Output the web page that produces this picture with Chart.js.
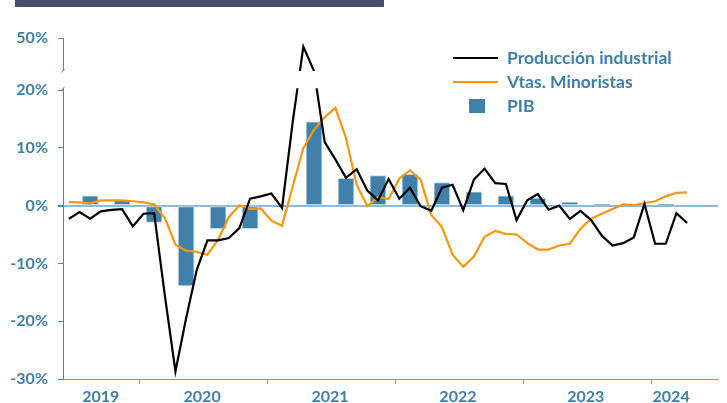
<!DOCTYPE html>
<html>
<head>
<meta charset="utf-8">
<script src="https://cdn.jsdelivr.net/npm/chart.js@4.4.1/dist/chart.umd.min.js"></script>
<style>
    html, body { margin: 0; padding: 0; background: #fff; }
    #wrap { position: relative; width: 727px; height: 403px; }
    #topbar { position: absolute; left: 15px; top: 0; width: 369px; height: 7px; background: #4a4a6e; }
</style>
</head>
<body>
<div id="wrap">
    <div id="topbar"></div>
    <canvas id="chart"></canvas>
</div>
<script>
const months = [
    'jun-19', 'jul-19', 'ago-19', 'sep-19', 'oct-19', 'nov-19', 'dic-19',
    'ene-20', 'feb-20', 'mar-20', 'abr-20', 'may-20', 'jun-20', 'jul-20', 'ago-20', 'sep-20', 'oct-20', 'nov-20', 'dic-20',
    'ene-21', 'feb-21', 'mar-21', 'abr-21', 'may-21', 'jun-21', 'jul-21', 'ago-21', 'sep-21', 'oct-21', 'nov-21', 'dic-21',
    'ene-22', 'feb-22', 'mar-22', 'abr-22', 'may-22', 'jun-22', 'jul-22', 'ago-22', 'sep-22', 'oct-22', 'nov-22', 'dic-22',
    'ene-23', 'feb-23', 'mar-23', 'abr-23', 'may-23', 'jun-23', 'jul-23', 'ago-23', 'sep-23', 'oct-23', 'nov-23', 'dic-23',
    'ene-24', 'feb-24', 'mar-24', 'abr-24'
];

const prodIndustrial = [
    -2.3, -1.1, -2.25, -1.0, -0.75, -0.6, -3.6, -1.4, -1.3, -15.5,
    -28.7, -19.5, -11.1, -6.0, -6.0, -5.6, -3.9, 1.2, 1.6, 2.1,
    -0.4, 14.5, 45.0, 31.0, 11.0, 8.0, 4.8, 6.3, 2.6, 0.9,
    4.6, 1.2, 3.1, -0.1, -0.9, 3.1, 3.6, -0.8, 4.5, 6.4,
    3.9, 3.75, -2.5, 0.9, 2.0, -0.7, 0.0, -2.3, -0.9, -2.5,
    -5.2, -6.9, -6.5, -5.5, 0.3, -6.6, -6.6, -1.3, -3.0
];

const vtasMinoristas = [
    0.6, 0.55, 0.4, 0.9, 0.9, 0.9, 0.75, 0.55, 0.2, -2.1,
    -6.75, -7.8, -8.0, -8.5, -5.9, -2.0, 0.05, -0.6, -0.5, -2.6,
    -3.5, 3.3, 10.0, 13.1, 15.3, 16.9, 11.7, 3.6, -0.1, 1.45,
    1.15, 4.7, 6.1, 4.5, -1.6, -3.7, -8.5, -10.6, -8.8, -5.4,
    -4.4, -4.9, -5.0, -6.5, -7.6, -7.6, -6.9, -6.6, -4.0, -2.25,
    -1.4, -0.6, 0.2, 0.05, 0.45, 0.75, 1.6, 2.2, 2.3
];

// PIB trimestral, colocado en el mes central de cada trimestre
const pibQuarters = ['3T19', '4T19', '1T20', '2T20', '3T20', '4T20', '1T21', '2T21', '3T21', '4T21',
    '1T22', '2T22', '3T22', '4T22', '1T23', '2T23', '3T23', '4T23', '1T24'];
const pibMonths = ['ago-19', 'nov-19', 'feb-20', 'may-20', 'ago-20', 'nov-20', 'feb-21', 'may-21', 'ago-21', 'nov-21',
    'feb-22', 'may-22', 'ago-22', 'nov-22', 'feb-23', 'may-23', 'ago-23', 'nov-23', 'feb-24'];
const pib = [1.7, 0.9, -2.9, -13.9, -4.0, -4.0, -0.2, 14.5, 4.7, 5.2,
    5.4, 4.0, 2.4, 1.7, 1.3, 0.6, 0.15, 0.05, 0.3];

const yTicks = [-30, -20, -10, 0, 10, 20, 50];

// eje cortado: por encima del 20% la escala se comprime
const breakFrom = 20;
const breakScale = 0.3;
const breakGap = [21, 31];
const t = v => v > breakFrom ? breakFrom + (v - breakFrom) * breakScale : v;

const textBlue = '#3d7fa9';
const axisBlue = '#4a88b0';
const lightAxis = '#6f9fc3';
const zeroLine = '#93bad5';
const font = { family: 'Lato', size: 16, weight: 'bold' };

const yearOf = m => '20' + m.slice(-2);
const years = [...new Set(months.map(yearOf))];
const yearCenters = years.map(y => {
    const first = months.findIndex(m => yearOf(m) === y);
    const last = months.length - 1 - [...months].reverse().findIndex(m => yearOf(m) === y);
    return (first + last) / 2;
});
const yearStarts = years.slice(1).map(y => months.findIndex(m => yearOf(m) === y) - 0.35);

const breakPlugin = {
    id: 'axisBreak',
    afterDatasetsDraw(chart) {
        const { ctx, chartArea, scales } = chart;
        const top = scales.y.getPixelForValue(t(breakGap[1]));
        const bottom = scales.y.getPixelForValue(t(breakGap[0]));
        const x = chartArea.left;
        ctx.save();
        ctx.fillStyle = '#fff';
        ctx.fillRect(x - 3, top, chartArea.right - x + 3, bottom - top);
        ctx.strokeStyle = axisBlue;
        ctx.lineWidth = 1;
        ctx.beginPath();
        ctx.moveTo(x + 1.5, top - 2);
        ctx.lineTo(x - 1.5, top + 1.5);
        ctx.moveTo(x + 1.5, bottom - 1.5);
        ctx.lineTo(x - 1.5, bottom + 2);
        ctx.stroke();
        ctx.restore();
    }
};

const legendPlugin = {
    id: 'sideLegend',
    afterDraw(chart) {
        const ctx = chart.ctx;
        const rows = [
            { label: 'Producción industrial', color: '#000', kind: 'line', y: 58 },
            { label: 'Vtas. Minoristas', color: '#f7960f', kind: 'line', y: 82 },
            { label: 'PIB', color: '#3f81aa', kind: 'box', y: 106 }
        ];
        ctx.save();
        ctx.font = 'bold 17.5px Lato';
        ctx.textBaseline = 'middle';
        rows.forEach(r => {
            if (r.kind === 'line') {
                ctx.strokeStyle = r.color;
                ctx.lineWidth = 2;
                ctx.beginPath();
                ctx.moveTo(453, r.y);
                ctx.lineTo(498, r.y);
                ctx.stroke();
            } else {
                ctx.fillStyle = r.color;
                ctx.fillRect(469, r.y - 7, 16, 14);
            }
            ctx.fillStyle = textBlue;
            ctx.fillText(r.label, 507, r.y);
        });
        ctx.restore();
    }
};

new Chart(document.getElementById('chart'), {
    type: 'line',
    data: {
        datasets: [
            {
                label: 'Producción industrial',
                data: prodIndustrial.map((v, i) => ({ x: i, y: t(v) })),
                borderColor: '#000',
                borderWidth: 2.2,
                pointRadius: 0,
                tension: 0,
                fill: false,
                order: 0
            },
            {
                label: 'Vtas. Minoristas',
                data: vtasMinoristas.map((v, i) => ({ x: i, y: t(v) })),
                borderColor: '#f7960f',
                borderWidth: 2.2,
                pointRadius: 0,
                tension: 0,
                fill: false,
                order: 1
            },
            {
                type: 'bar',
                label: 'PIB',
                data: pib.map((v, i) => ({ x: months.indexOf(pibMonths[i]), y: t(v) })),
                backgroundColor: '#3f81aa',
                borderColor: '#c3d8e6',
                borderWidth: 1,
                borderSkipped: false,
                barThickness: 16,
                order: 2
            }
        ]
    },
    options: {
        responsive: true,
        maintainAspectRatio: false,
        devicePixelRatio: 1,
        animation: false,
        layout: {
            padding: { top: 38, right: 9, left: 0, bottom: 0 }
        },
        plugins: {
            legend: { display: false },
            tooltip: { enabled: false }
        },
        scales: {
            x: {
                type: 'linear',
                min: -0.55,
                max: 60.9,
                offset: false,
                afterFit: scale => { scale.height = 24; },
                afterBuildTicks: scale => {
                    scale.ticks = [...yearStarts, ...yearCenters].sort((a, b) => a - b).map(v => ({ value: v }));
                },
                border: { color: lightAxis, width: 1 },
                grid: {
                    offset: false,
                    drawOnChartArea: false,
                    drawTicks: true,
                    tickLength: 5,
                    tickColor: ctx => ctx.tick && yearStarts.includes(ctx.tick.value) ? lightAxis : 'rgba(0,0,0,0)'
                },
                ticks: {
                    autoSkip: false,
                    maxRotation: 0,
                    padding: 5,
                    color: textBlue,
                    font: { ...font, lineHeight: 1 },
                    callback: value => {
                        const i = yearCenters.indexOf(value);
                        return i >= 0 ? years[i] : '';
                    }
                }
            },
            y: {
                min: t(yTicks[0]),
                max: t(yTicks[yTicks.length - 1]),
                afterFit: scale => { scale.width = 63; },
                afterBuildTicks: scale => {
                    scale.ticks = yTicks.map(v => ({ value: t(v) }));
                },
                border: { color: axisBlue, width: 1 },
                grid: {
                    color: ctx => ctx.tick && ctx.tick.value === 0 ? zeroLine : 'rgba(0,0,0,0)',
                    lineWidth: ctx => ctx.tick && ctx.tick.value === 0 ? 2 : 1,
                    tickColor: axisBlue,
                    tickLength: 5
                },
                ticks: {
                    padding: 10,
                    color: textBlue,
                    font: font,
                    callback: value => {
                        const v = yTicks.find(k => t(k) === value);
                        return v === undefined ? '' : v + '%';
                    }
                }
            }
        }
    },
    plugins: [breakPlugin, legendPlugin]
});
</script>
</body>
</html>
